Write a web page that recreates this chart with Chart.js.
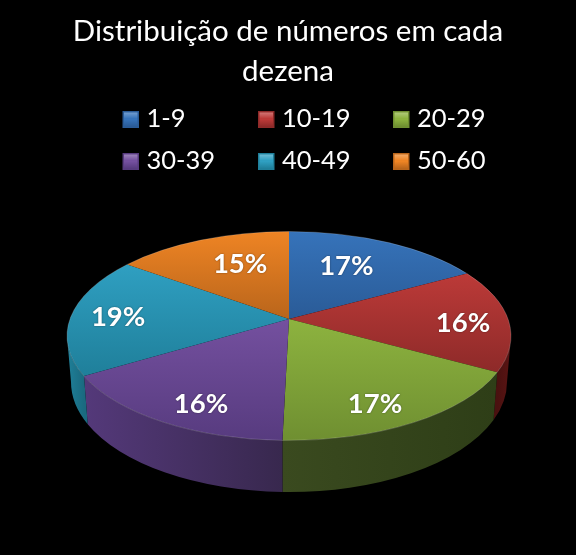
<!DOCTYPE html>
<html>
<head>
<meta charset="utf-8">
<title>Distribuição de números em cada dezena</title>
<script src="https://cdn.jsdelivr.net/npm/chart.js@4/dist/chart.umd.min.js"></script>
<style>
  html, body { margin: 0; padding: 0; background: #000; }
  canvas { display: block; }
</style>
</head>
<body>
<canvas id="chart" width="576" height="555"></canvas>
<script>
const titleLines = ["Distribuição de números em cada", "dezena"];
const categories = ["1-9", "10-19", "20-29", "30-39", "40-49", "50-60"];
const shares = [17, 16, 17.4, 16, 18.6, 15];

const faceLight = ["#3673BA", "#BC3A38", "#8DB33F", "#74509F", "#2F9FC1", "#EE8424"];
const faceDark = ["#2A5B97", "#8E2A29", "#6F8F31", "#573B7F", "#1F7F9A", "#B9651B"];
const wallStart = ["#1D3D66", "#4A1110", "#3A4A1F", "#54397A", "#1F8099", "#7A4210"];
const wallEnd = ["#1D3D66", "#5A1413", "#2E3E17", "#38284E", "#1A6A80", "#7A4210"];

const fontFamily = "Lato, 'Open Sans', sans-serif";

// top face ellipse, the apex sits above its centre because of the perspective
const topRim = { x: 289, y: 336, rx: 222, ry: 104.5 };
const bottomRim = { x: 289, y: 382, rx: 218, ry: 110 };
const apexShift = 17 / 104.5;

// pixel nudges for the percent labels
const labelNudge = [[-10, 0], [1, 4], [-11, 7], [10, 7], [1, 2], [11, 0]];

// moves a point of the unit disc so that its centre lands on the apex
function project(u, v) {
  const d = 1 - apexShift * v;
  return { u: (u * Math.sqrt(1 - apexShift * apexShift)) / d, v: (v - apexShift) / d };
}

function ellipseParam(angle) {
  const p = project(Math.cos(angle), Math.sin(angle));
  return Math.atan2(p.v, p.u);
}

function drawWall(ctx, index, t0, t1) {
  // only the front half of the rim is visible
  const ranges = [[t0, t1], [t0 - 2 * Math.PI, t1 - 2 * Math.PI]];
  for (const [a, b] of ranges) {
    const from = Math.max(a, 0);
    const to = Math.min(b, Math.PI);
    if (to <= from) continue;
    const x0 = topRim.x + topRim.rx * Math.cos(to);
    const x1 = topRim.x + topRim.rx * Math.cos(from);
    const fill = ctx.createLinearGradient(x0, 0, x1, 0);
    fill.addColorStop(0, wallStart[index]);
    fill.addColorStop(1, wallEnd[index]);
    ctx.beginPath();
    ctx.ellipse(topRim.x, topRim.y, topRim.rx, topRim.ry, 0, from, to);
    ctx.ellipse(bottomRim.x, bottomRim.y, bottomRim.rx, bottomRim.ry, 0, to, from, true);
    ctx.closePath();
    ctx.fillStyle = fill;
    ctx.fill();
  }
}

function drawFace(ctx, index, t0, t1) {
  const apexY = topRim.y - apexShift * topRim.ry;
  let minY = apexY;
  let maxY = apexY;
  for (let t = t0; t <= t1; t += 0.02) {
    const y = topRim.y + topRim.ry * Math.sin(t);
    minY = Math.min(minY, y);
    maxY = Math.max(maxY, y);
  }
  const fill = ctx.createLinearGradient(0, minY, 0, maxY);
  fill.addColorStop(0, faceLight[index]);
  fill.addColorStop(1, faceDark[index]);
  ctx.beginPath();
  ctx.moveTo(topRim.x, apexY);
  ctx.ellipse(topRim.x, topRim.y, topRim.rx, topRim.ry, 0, t0, t1);
  ctx.closePath();
  ctx.fillStyle = fill;
  ctx.fill();

  // thin light rim along the outer edge
  ctx.beginPath();
  ctx.ellipse(topRim.x, topRim.y, topRim.rx, topRim.ry, 0, t0, t1);
  ctx.strokeStyle = "rgba(255,255,255,0.18)";
  ctx.lineWidth = 1;
  ctx.stroke();
}

const pie3d = {
  id: "pie3d",
  beforeDatasetsDraw(chart) {
    const ctx = chart.ctx;
    const arcs = chart.getDatasetMeta(0).data;
    const params = arcs.map((arc) => {
      const t0 = ellipseParam(arc.startAngle);
      let t1 = ellipseParam(arc.endAngle);
      if (t1 <= t0) t1 += 2 * Math.PI;
      return [t0, t1];
    });
    params.forEach((p, i) => drawWall(ctx, i, p[0], p[1]));
    params.forEach((p, i) => drawFace(ctx, i, p[0], p[1]));

    const total = shares.reduce((a, b) => a + b, 0);
    ctx.save();
    ctx.font = "bold 27.5px " + fontFamily;
    ctx.textAlign = "center";
    ctx.textBaseline = "middle";
    ctx.fillStyle = "#fff";
    ctx.shadowColor = "rgba(0,0,0,0.45)";
    ctx.shadowBlur = 2;
    arcs.forEach((arc, i) => {
      const mid = (arc.startAngle + arc.endAngle) / 2;
      const r = Math.sin(mid) < -0.3 ? 0.66 : 0.79;
      const p = project(r * Math.cos(mid), r * Math.sin(mid));
      const text = Math.round((shares[i] / total) * 100) + "%";
      const x = topRim.x + p.u * topRim.rx + labelNudge[i][0];
      const y = topRim.y + p.v * topRim.ry + labelNudge[i][1];
      ctx.fillText(text, x, y);
    });
    ctx.restore();
    return false;
  },
};

const legend3d = {
  id: "legend3d",
  afterDraw(chart) {
    const ctx = chart.ctx;
    const columns = [122.5, 258, 393];
    const rows = [119.5, 161.5];
    ctx.save();
    ctx.font = "25.5px " + fontFamily;
    ctx.textBaseline = "middle";
    categories.forEach((name, i) => {
      const x = columns[i % 3];
      const y = rows[Math.floor(i / 3)];
      ctx.fillStyle = faceDark[i];
      ctx.fillRect(x, y - 8.5, 16.5, 17);
      const shine = ctx.createLinearGradient(0, y - 7, 0, y + 7);
      shine.addColorStop(0, faceLight[i]);
      shine.addColorStop(0.5, faceLight[i]);
      shine.addColorStop(1, faceDark[i]);
      ctx.fillStyle = shine;
      ctx.fillRect(x + 1.5, y - 7, 13.5, 14);
      const gloss = ctx.createLinearGradient(0, y - 7, 0, y - 1);
      gloss.addColorStop(0, "rgba(255,255,255,0.3)");
      gloss.addColorStop(1, "rgba(255,255,255,0)");
      ctx.fillStyle = gloss;
      ctx.fillRect(x + 1.5, y - 7, 13.5, 6);
      ctx.fillStyle = "#fff";
      ctx.fillText(name, x + 24, y - 1);
    });
    ctx.restore();
  },
};

new Chart(document.getElementById("chart"), {
  type: "pie",
  data: {
    labels: categories,
    datasets: [{ data: shares, backgroundColor: faceLight, borderWidth: 0 }],
  },
  options: {
    responsive: false,
    animation: false,
    layout: { padding: { top: 11 } },
    plugins: {
      legend: { display: false },
      tooltip: { enabled: false },
      title: {
        display: true,
        text: titleLines,
        color: "#fff",
        font: { family: fontFamily, size: 29.5, weight: "normal", lineHeight: 1.36 },
        padding: 0,
      },
    },
  },
  plugins: [pie3d, legend3d],
});
</script>
</body>
</html>
